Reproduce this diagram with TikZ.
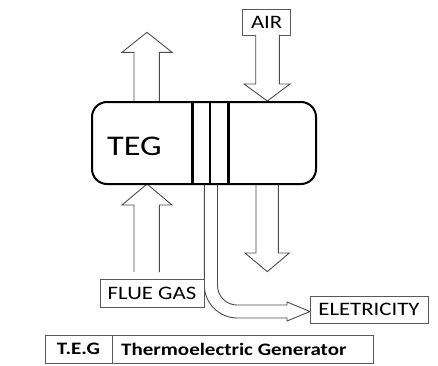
\documentclass[tikz,border=0pt]{standalone}
\usepackage{fontspec}
\setmainfont[FakeStretch=1.2]{Carlito}
\begin{document}
\begin{tikzpicture}[x=1pt,y=1pt,
  blockarrow/.style={draw=black!70, line width=0.9pt, fill=white, line join=miter},
  labelbox/.style={draw=black!65, line width=0.8pt, fill=white, inner sep=0pt, font=\fontsize{19}{19}\selectfont},
  plate/.style={line width=2.6pt, black},
  cell/.style={draw=black!65, line width=0.8pt}]
\useasboundingbox (0,0) rectangle (438,365);
% top-left up arrow (exhaust)
\draw[blockarrow] (134,263) -- (134,312.7) -- (122,312.7) -- (147,332.7) -- (172,312.7) -- (159.3,312.7) -- (159.3,263);
% AIR box and down arrow
\node[labelbox, minimum width=48, minimum height=26] (air) at (266.7,343) {AIR};
\draw[blockarrow] (255.7,330) -- (255.7,281) -- (244,281) -- (267.3,264) -- (290,281) -- (279.3,281) -- (279.3,330);
% flue gas up arrow
\draw[blockarrow] (134,93) -- (134,160) -- (122,160) -- (147,181) -- (172,160) -- (159.3,160) -- (159.3,93);
% bottom-right down arrow
\draw[blockarrow] (256,181) -- (256,112) -- (245,112) -- (267.3,93.3) -- (289.3,112) -- (278.3,112) -- (278.3,181);
% electricity arrow
\draw[blockarrow] (204.3,181) -- (204.3,80) arc[start angle=180, end angle=270, radius=33] -- (287,47) -- (287,44) -- (310,53.5) -- (287,63) -- (287,60) -- (237,60) arc[start angle=270, end angle=180, radius=19.5] -- (217.5,181);
% labels
\node[labelbox, minimum width=104, minimum height=28] (flue) at (152,72) {FLUE GAS};
\node[labelbox, minimum width=118, minimum height=27] (elec) at (369,55.5) {ELETRICITY};
% main TEG body
\draw[line width=2pt, fill=white, rounded corners=15] (92,181) rectangle (316,263);
\node[anchor=west, inner sep=0pt, font=\fontsize{28.5}{28.5}\selectfont] (teg) at (107,219) {TEG};
\draw[plate] (192.5,181) -- (192.5,263);
\draw[plate] (210,181) -- (210,263);
\draw[plate] (228.5,181) -- (228.5,263);
% legend table
\draw[cell] (45,2) rectangle (373,30);
\draw[cell] (112,2) -- (112,30);
\node[inner sep=0pt, font=\bfseries\fontsize{17.5}{17.5}\selectfont] (abbr) at (78.5,16) {T.E.G};
\node[anchor=west, inner sep=0pt, font=\bfseries\fontsize{17.5}{17.5}\selectfont] (full) at (121,16) {Thermoelectric Generator};
\end{tikzpicture}
\end{document}
